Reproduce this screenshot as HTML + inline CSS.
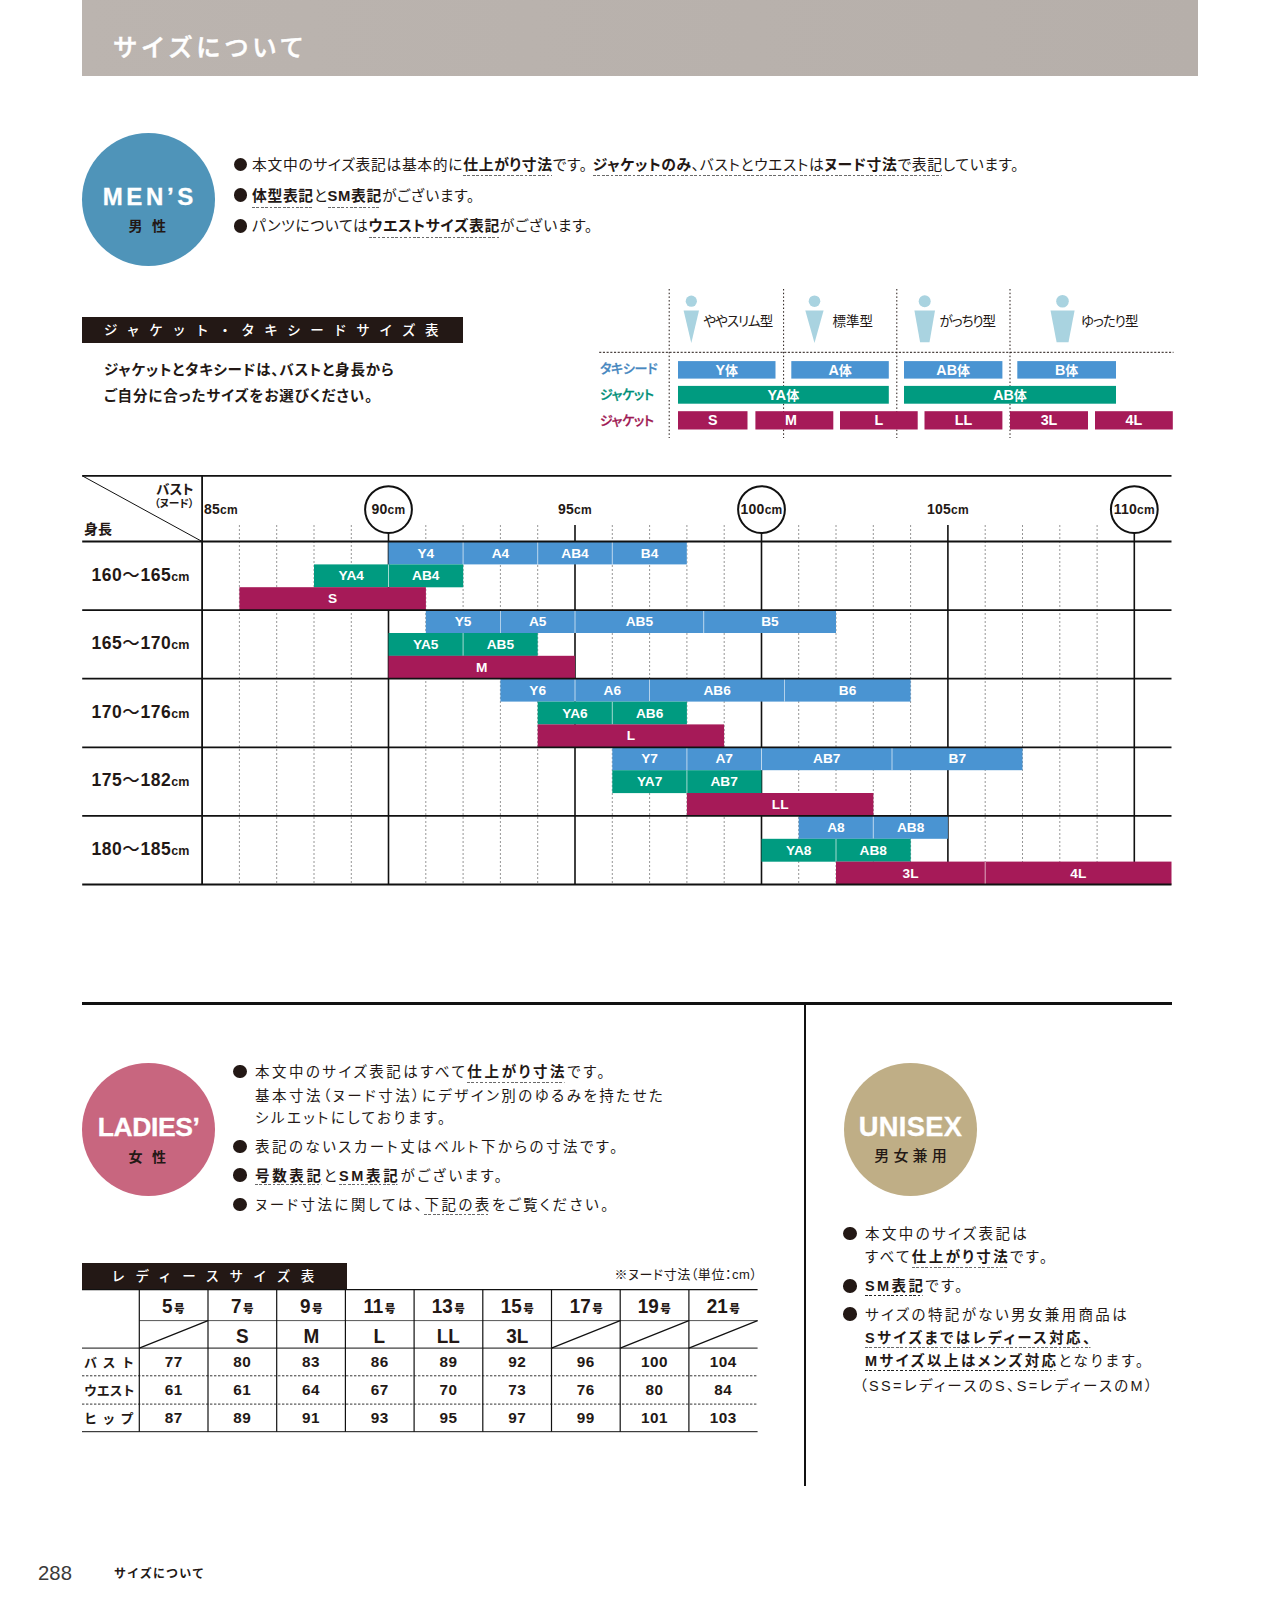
<!DOCTYPE html>
<html lang="ja"><head><meta charset="utf-8"><title>サイズについて</title>
<style>
*{margin:0;padding:0;box-sizing:border-box}
html,body{width:1280px;height:1616px;background:#fff;overflow:hidden}
body{font-family:"Liberation Sans","Noto Sans CJK JP",sans-serif;color:#231815;position:relative}
.a{position:absolute;white-space:nowrap}
.jp{font-family:"Liberation Sans","Noto Sans CJK JP",sans-serif}
.hdr{left:82px;top:0;width:1116.4px;height:76.3px;background:linear-gradient(90deg,#bbb4af,#b6afaa)}
.hdr span{position:absolute;left:31px;top:30.2px;font:500 24.4px/36px "Liberation Sans","Noto Sans CJK JP",sans-serif;color:#fff;letter-spacing:3.6px;-webkit-text-stroke:.5px #fff}
.circ{border-radius:50%;width:133px;height:133px;text-align:center;color:#fff}
.circ b{display:block;font:700 25px/30px "Liberation Sans",sans-serif;letter-spacing:2px;-webkit-text-stroke:.3px #fff}
.circ i{display:block;font:700 14px/20px "Liberation Sans","Noto Sans CJK JP",sans-serif;font-style:normal;color:#231815}
.bl{font:400 14.8px/22px "Liberation Sans","Noto Sans CJK JP",sans-serif;font-feature-settings:"palt";letter-spacing:.66px;color:#231815}
.bl b{font-weight:700}
.bl u,.bl2 u{text-decoration:none;background-image:repeating-linear-gradient(90deg,#6a6a6a 0 2.7px,transparent 2.7px 4.4px);background-size:100% 1px;background-repeat:no-repeat;background-position:0 100%}
.dot{width:13.6px;height:13.6px;border-radius:50%;background:#231815}
.lab{background:#231815;color:#fff;font:500 13.5px/28.4px "Liberation Sans","Noto Sans CJK JP",sans-serif}
.bar{color:#fff;font:700 14.3px/18px "Liberation Sans","Noto Sans CJK JP",sans-serif;text-align:center}
.cb{color:#fff;font:700 13.7px/23px "Liberation Sans","Noto Sans CJK JP",sans-serif;text-align:center;height:23px}
.rowl{font:700 17.5px/24px "Liberation Sans","Noto Sans CJK JP",sans-serif;letter-spacing:.55px}
.rowl i{font-style:normal;font-weight:500}
.rowl small{font-size:12.5px;letter-spacing:0}
.ax{font:700 14px/16px "Liberation Sans",sans-serif;text-align:center;letter-spacing:.25px}
.ax small{font-size:12px}
.t td{}

.bl2{font:400 14.5px/22px "Liberation Sans","Noto Sans CJK JP",sans-serif;font-feature-settings:"palt";letter-spacing:2.48px;color:#231815}
.bl2 b{font-weight:700;letter-spacing:var(--bls,2.68px)}
.tn{font:700 15.3px/20px "Liberation Sans",sans-serif;text-align:center;width:68.7px;letter-spacing:.5px}
.th{font:700 20.5px/24px "Liberation Sans","Noto Sans CJK JP",sans-serif;text-align:center;width:68.7px;transform:scaleX(.92)}
.th small{font:900 11.5px/12px "Liberation Sans","Noto Sans CJK JP",sans-serif;margin-left:1.5px}
.ts{font:700 21px/24px "Liberation Sans",sans-serif;text-align:center;width:68.7px;transform:scaleX(.9)}
.tl{font:700 13px/20px "Liberation Sans","Noto Sans CJK JP",sans-serif;left:84px;width:52px;text-align:justify}
</style></head>
<body>
<div class="a hdr"><span>サイズについて</span></div>
<div class="a circ" style="left:82px;top:133px;background:#4f94b9"><b style="margin-top:48.5px;font-size:24px;letter-spacing:3.6px;padding-left:2.6px">MEN’S</b><i style="margin-top:4.75px;letter-spacing:9.4px;padding-left:7px">男性</i></div>
<div class="a dot" style="left:233.5px;top:157.8px"></div>
<div class="a bl" style="left:252px;top:154.1px;">本文中のサイズ表記は基本的に<u style="padding-bottom:2.84px;background-size:calc(100% - 0.6px) 1px"><b>仕上がり寸法</b></u>です。<span style="margin-left:5px"></span><u style="padding-bottom:2.84px;background-size:calc(100% - 0.6px) 1px"><b>ジャケットのみ</b>、バストとウエストは<b>ヌード寸法</b>で表記</u>しています。</div>
<div class="a dot" style="left:233.5px;top:188.3px"></div>
<div class="a bl" style="left:252px;top:184.6px;"><u style="padding-bottom:4.14px;background-size:calc(100% - 0.6px) 1px"><b>体型表記</b></u>と<u style="padding-bottom:4.14px;background-size:calc(100% - 0.6px) 1px"><b>SM表記</b></u>がございます。</div>
<div class="a dot" style="left:233.5px;top:219.0px"></div>
<div class="a bl" style="left:252px;top:215.3px;">パンツについては<u style="padding-bottom:3.54px;background-size:calc(100% - 0.6px) 1px"><b>ウエストサイズ表記</b></u>がございます。</div>
<div class="a lab" style="left:82px;top:316.5px;width:381px;height:26px;padding-left:22px;letter-spacing:9.5px">ジャケット・タキシードサイズ表</div>
<div class="a bl" style="left:104px;top:359.3px;font-weight:700;font-size:14.5px;letter-spacing:.85px">ジャケットとタキシードは、バストと身長から</div>
<div class="a bl" style="left:104px;top:385.3px;font-weight:700;font-size:14.5px;letter-spacing:.92px">ご自分に合ったサイズをお選びください。</div>
<svg class="a" style="left:590px;top:280px" width="600" height="170" viewBox="590 280 600 170"><line x1="669.2" y1="289" x2="669.2" y2="438" stroke="#231815" stroke-width="1" stroke-dasharray="1.5 2.2"/><line x1="783.6" y1="289" x2="783.6" y2="438" stroke="#231815" stroke-width="1" stroke-dasharray="1.5 2.2"/><line x1="896.8" y1="289" x2="896.8" y2="438" stroke="#231815" stroke-width="1" stroke-dasharray="1.5 2.2"/><line x1="1010" y1="289" x2="1010" y2="438" stroke="#231815" stroke-width="1" stroke-dasharray="1.5 2.2"/><line x1="599.2" y1="352.3" x2="1173.5" y2="352.3" stroke="#231815" stroke-width="1" stroke-dasharray="2.1 1.6"/><circle cx="691.3" cy="301.2" r="5.6" fill="#a9d3e0"/><polygon points="683.6,310.6 699,310.6 691.3,343" fill="#a9d3e0"/><circle cx="814.5" cy="301.2" r="5.8" fill="#a9d3e0"/><polygon points="805.3,310.6 823.6,310.6 814.5,343" fill="#a9d3e0"/><circle cx="924.7" cy="301.2" r="6" fill="#a9d3e0"/><polygon points="914.4,310.6 935,310.6 929.5,342.3 920.1,342.3" fill="#a9d3e0"/><circle cx="1062.5" cy="301.2" r="6.3" fill="#a9d3e0"/><polygon points="1050.5,310.6 1074.6,310.6 1068.5,342.3 1056.6,342.3" fill="#a9d3e0"/><rect x="678" y="361.1" width="97.5" height="17.5" fill="#4a94d2"/><rect x="791.3" y="361.1" width="97.5" height="17.5" fill="#4a94d2"/><rect x="904" y="361.1" width="98.4" height="17.5" fill="#4a94d2"/><rect x="1017.3" y="361.1" width="98.7" height="17.5" fill="#4a94d2"/><rect x="678" y="385.9" width="210.8" height="17.8" fill="#009b80"/><rect x="904" y="385.9" width="212.0" height="17.8" fill="#009b80"/><rect x="678" y="411.2" width="69.5" height="18.3" fill="#a61a58"/><rect x="755.4" y="411.2" width="77.9" height="18.3" fill="#a61a58"/><rect x="840" y="411.2" width="77.7" height="18.3" fill="#a61a58"/><rect x="924.5" y="411.2" width="77.9" height="18.3" fill="#a61a58"/><rect x="1010" y="411.2" width="78.0" height="18.3" fill="#a61a58"/><rect x="1095" y="411.2" width="77.8" height="18.3" fill="#a61a58"/></svg>
<div class="a bar" style="left:678px;width:97.5px;top:360.7px">Y<span style="font-size:13px">体</span></div>
<div class="a bar" style="left:791.3px;width:97.5px;top:360.7px">A<span style="font-size:13px">体</span></div>
<div class="a bar" style="left:904px;width:98.4px;top:360.7px">AB<span style="font-size:13px">体</span></div>
<div class="a bar" style="left:1017.3px;width:98.7px;top:360.7px">B<span style="font-size:13px">体</span></div>
<div class="a bar" style="left:678px;width:210.8px;top:385.8px">YA<span style="font-size:13px">体</span></div>
<div class="a bar" style="left:904px;width:212.0px;top:385.8px">AB<span style="font-size:13px">体</span></div>
<div class="a bar" style="left:678px;width:69.5px;top:411.3px">S</div>
<div class="a bar" style="left:751.9px;width:77.9px;top:411.3px">M</div>
<div class="a bar" style="left:840px;width:77.7px;top:411.3px">L</div>
<div class="a bar" style="left:924.5px;width:77.9px;top:411.3px">LL</div>
<div class="a bar" style="left:1010px;width:78.0px;top:411.3px">3L</div>
<div class="a bar" style="left:1095px;width:77.8px;top:411.3px">4L</div>
<div class="a jp" style="left:600px;top:358.96px;font:500 13px/20px 'Liberation Sans','Noto Sans CJK JP',sans-serif;font-feature-settings:'palt';letter-spacing:-.3px;-webkit-text-stroke:.3px;color:#4788bf">タキシード</div>
<div class="a jp" style="left:600px;top:384.56px;font:500 13px/20px 'Liberation Sans','Noto Sans CJK JP',sans-serif;font-feature-settings:'palt';letter-spacing:-.3px;-webkit-text-stroke:.3px;color:#008f78">ジャケット</div>
<div class="a jp" style="left:600px;top:410.56px;font:500 13px/20px 'Liberation Sans','Noto Sans CJK JP',sans-serif;font-feature-settings:'palt';letter-spacing:-.3px;-webkit-text-stroke:.3px;color:#9e1853">ジャケット</div>
<div class="a jp" style="left:703.5px;top:311.7px;font:400 13.5px/20px 'Liberation Sans','Noto Sans CJK JP',sans-serif;font-feature-settings:'palt';letter-spacing:-1px">ややスリム型</div>
<div class="a jp" style="left:832.5px;top:311.7px;font:400 13.5px/20px 'Liberation Sans','Noto Sans CJK JP',sans-serif;font-feature-settings:'palt';letter-spacing:0px">標準型</div>
<div class="a jp" style="left:939.5px;top:311.7px;font:400 13.5px/20px 'Liberation Sans','Noto Sans CJK JP',sans-serif;font-feature-settings:'palt';letter-spacing:-1px">がっちり型</div>
<div class="a jp" style="left:1081px;top:311.7px;font:400 13.5px/20px 'Liberation Sans','Noto Sans CJK JP',sans-serif;font-feature-settings:'palt';letter-spacing:-1px">ゆったり型</div>
<svg class="a" style="left:70px;top:465px" width="1120" height="430" viewBox="70 465 1120 430"><line x1="239.4" y1="525" x2="239.4" y2="884.5" stroke="#969696" stroke-width="1" stroke-dasharray="2 2"/><line x1="276.7" y1="525" x2="276.7" y2="884.5" stroke="#969696" stroke-width="1" stroke-dasharray="2 2"/><line x1="314.0" y1="525" x2="314.0" y2="884.5" stroke="#969696" stroke-width="1" stroke-dasharray="2 2"/><line x1="351.3" y1="525" x2="351.3" y2="884.5" stroke="#969696" stroke-width="1" stroke-dasharray="2 2"/><line x1="425.8" y1="525" x2="425.8" y2="884.5" stroke="#969696" stroke-width="1" stroke-dasharray="2 2"/><line x1="463.1" y1="525" x2="463.1" y2="884.5" stroke="#969696" stroke-width="1" stroke-dasharray="2 2"/><line x1="500.4" y1="525" x2="500.4" y2="884.5" stroke="#969696" stroke-width="1" stroke-dasharray="2 2"/><line x1="537.7" y1="525" x2="537.7" y2="884.5" stroke="#969696" stroke-width="1" stroke-dasharray="2 2"/><line x1="612.3" y1="525" x2="612.3" y2="884.5" stroke="#969696" stroke-width="1" stroke-dasharray="2 2"/><line x1="649.6" y1="525" x2="649.6" y2="884.5" stroke="#969696" stroke-width="1" stroke-dasharray="2 2"/><line x1="686.9" y1="525" x2="686.9" y2="884.5" stroke="#969696" stroke-width="1" stroke-dasharray="2 2"/><line x1="724.2" y1="525" x2="724.2" y2="884.5" stroke="#969696" stroke-width="1" stroke-dasharray="2 2"/><line x1="798.7" y1="525" x2="798.7" y2="884.5" stroke="#969696" stroke-width="1" stroke-dasharray="2 2"/><line x1="836.0" y1="525" x2="836.0" y2="884.5" stroke="#969696" stroke-width="1" stroke-dasharray="2 2"/><line x1="873.3" y1="525" x2="873.3" y2="884.5" stroke="#969696" stroke-width="1" stroke-dasharray="2 2"/><line x1="910.6" y1="525" x2="910.6" y2="884.5" stroke="#969696" stroke-width="1" stroke-dasharray="2 2"/><line x1="985.2" y1="525" x2="985.2" y2="884.5" stroke="#969696" stroke-width="1" stroke-dasharray="2 2"/><line x1="1022.5" y1="525" x2="1022.5" y2="884.5" stroke="#969696" stroke-width="1" stroke-dasharray="2 2"/><line x1="1059.8" y1="525" x2="1059.8" y2="884.5" stroke="#969696" stroke-width="1" stroke-dasharray="2 2"/><line x1="1097.1" y1="525" x2="1097.1" y2="884.5" stroke="#969696" stroke-width="1" stroke-dasharray="2 2"/><line x1="575.0" y1="525" x2="575.0" y2="884.5" stroke="#111" stroke-width="1.6"/><line x1="947.9" y1="525" x2="947.9" y2="884.5" stroke="#111" stroke-width="1.6"/><line x1="388.5" y1="533" x2="388.5" y2="884.5" stroke="#111" stroke-width="1.6"/><circle cx="388.5" cy="509.6" r="23.4" fill="#fff" stroke="#111" stroke-width="2"/><line x1="761.5" y1="533" x2="761.5" y2="884.5" stroke="#111" stroke-width="1.6"/><circle cx="761.5" cy="509.6" r="23.4" fill="#fff" stroke="#111" stroke-width="2"/><line x1="1134.3" y1="533" x2="1134.3" y2="884.5" stroke="#111" stroke-width="1.6"/><circle cx="1134.3" cy="509.6" r="23.4" fill="#fff" stroke="#111" stroke-width="2"/><rect x="388.5" y="541.5" width="298.3" height="22.9" fill="#4a94d2"/><line x1="463.1" y1="541.5" x2="463.1" y2="564.4" stroke="#fff" stroke-width="0.8" opacity=".8"/><line x1="537.7" y1="541.5" x2="537.7" y2="564.4" stroke="#fff" stroke-width="0.8" opacity=".8"/><line x1="612.3" y1="541.5" x2="612.3" y2="564.4" stroke="#fff" stroke-width="0.8" opacity=".8"/><rect x="314.0" y="564.4" width="149.2" height="22.9" fill="#009b80"/><line x1="388.5" y1="564.4" x2="388.5" y2="587.2" stroke="#fff" stroke-width="0.8" opacity=".8"/><rect x="239.4" y="587.2" width="186.5" height="22.9" fill="#a61a58"/><rect x="425.8" y="610.1" width="410.2" height="22.9" fill="#4a94d2"/><line x1="500.4" y1="610.1" x2="500.4" y2="633.0" stroke="#fff" stroke-width="0.8" opacity=".8"/><line x1="575.0" y1="610.1" x2="575.0" y2="633.0" stroke="#fff" stroke-width="0.8" opacity=".8"/><line x1="703.7" y1="610.1" x2="703.7" y2="633.0" stroke="#fff" stroke-width="0.8" opacity=".8"/><rect x="388.5" y="633.0" width="149.2" height="22.9" fill="#009b80"/><line x1="463.1" y1="633.0" x2="463.1" y2="655.8" stroke="#fff" stroke-width="0.8" opacity=".8"/><rect x="388.5" y="655.8" width="186.5" height="22.9" fill="#a61a58"/><rect x="500.4" y="678.7" width="410.2" height="22.9" fill="#4a94d2"/><line x1="575.0" y1="678.7" x2="575.0" y2="701.6" stroke="#fff" stroke-width="0.8" opacity=".8"/><line x1="649.6" y1="678.7" x2="649.6" y2="701.6" stroke="#fff" stroke-width="0.8" opacity=".8"/><line x1="784.6" y1="678.7" x2="784.6" y2="701.6" stroke="#fff" stroke-width="0.8" opacity=".8"/><rect x="537.7" y="701.6" width="149.2" height="22.9" fill="#009b80"/><line x1="612.3" y1="701.6" x2="612.3" y2="724.4" stroke="#fff" stroke-width="0.8" opacity=".8"/><rect x="537.7" y="724.4" width="186.4" height="22.9" fill="#a61a58"/><rect x="612.3" y="747.3" width="410.2" height="22.9" fill="#4a94d2"/><line x1="686.9" y1="747.3" x2="686.9" y2="770.2" stroke="#fff" stroke-width="0.8" opacity=".8"/><line x1="761.5" y1="747.3" x2="761.5" y2="770.2" stroke="#fff" stroke-width="0.8" opacity=".8"/><line x1="892.0" y1="747.3" x2="892.0" y2="770.2" stroke="#fff" stroke-width="0.8" opacity=".8"/><rect x="612.3" y="770.2" width="149.2" height="22.9" fill="#009b80"/><line x1="686.9" y1="770.2" x2="686.9" y2="793.0" stroke="#fff" stroke-width="0.8" opacity=".8"/><rect x="686.9" y="793.0" width="186.5" height="22.9" fill="#a61a58"/><rect x="798.7" y="815.9" width="149.2" height="22.9" fill="#4a94d2"/><line x1="873.3" y1="815.9" x2="873.3" y2="838.8" stroke="#fff" stroke-width="0.8" opacity=".8"/><rect x="761.5" y="838.8" width="149.2" height="22.9" fill="#009b80"/><line x1="836.0" y1="838.8" x2="836.0" y2="861.6" stroke="#fff" stroke-width="0.8" opacity=".8"/><rect x="836.0" y="861.6" width="335.5" height="22.9" fill="#a61a58"/><line x1="985.2" y1="861.6" x2="985.2" y2="884.5" stroke="#fff" stroke-width="0.8" opacity=".8"/><line x1="82.2" y1="475.8" x2="1171.5" y2="475.8" stroke="#111" stroke-width="1.8"/><line x1="82.2" y1="541.5" x2="1171.5" y2="541.5" stroke="#111" stroke-width="1.8"/><line x1="82.2" y1="610.1" x2="1171.5" y2="610.1" stroke="#111" stroke-width="1.8"/><line x1="82.2" y1="678.7" x2="1171.5" y2="678.7" stroke="#111" stroke-width="1.8"/><line x1="82.2" y1="747.3" x2="1171.5" y2="747.3" stroke="#111" stroke-width="1.8"/><line x1="82.2" y1="815.9" x2="1171.5" y2="815.9" stroke="#111" stroke-width="1.8"/><line x1="82.2" y1="884.5" x2="1171.5" y2="884.5" stroke="#111" stroke-width="1.8"/><line x1="202.1" y1="475.8" x2="202.1" y2="884.5" stroke="#111" stroke-width="1.8"/><line x1="82.2" y1="475.8" x2="202.1" y2="541.5" stroke="#111" stroke-width="1"/></svg>
<div class="a cb" style="left:388.5px;width:74.6px;top:541.5px">Y4</div>
<div class="a cb" style="left:463.1px;width:74.6px;top:541.5px">A4</div>
<div class="a cb" style="left:537.7px;width:74.6px;top:541.5px">AB4</div>
<div class="a cb" style="left:612.3px;width:74.6px;top:541.5px">B4</div>
<div class="a cb" style="left:314.0px;width:74.6px;top:564.4px">YA4</div>
<div class="a cb" style="left:388.5px;width:74.6px;top:564.4px">AB4</div>
<div class="a cb" style="left:239.4px;width:186.5px;top:587.2px">S</div>
<div class="a cb" style="left:425.8px;width:74.6px;top:610.1px">Y5</div>
<div class="a cb" style="left:500.4px;width:74.6px;top:610.1px">A5</div>
<div class="a cb" style="left:575.0px;width:128.7px;top:610.1px">AB5</div>
<div class="a cb" style="left:703.7px;width:132.4px;top:610.1px">B5</div>
<div class="a cb" style="left:388.5px;width:74.6px;top:633.0px">YA5</div>
<div class="a cb" style="left:463.1px;width:74.6px;top:633.0px">AB5</div>
<div class="a cb" style="left:388.5px;width:186.5px;top:655.8px">M</div>
<div class="a cb" style="left:500.4px;width:74.6px;top:678.7px">Y6</div>
<div class="a cb" style="left:575.0px;width:74.6px;top:678.7px">A6</div>
<div class="a cb" style="left:649.6px;width:135.0px;top:678.7px">AB6</div>
<div class="a cb" style="left:784.6px;width:126.0px;top:678.7px">B6</div>
<div class="a cb" style="left:537.7px;width:74.6px;top:701.6px">YA6</div>
<div class="a cb" style="left:612.3px;width:74.6px;top:701.6px">AB6</div>
<div class="a cb" style="left:537.7px;width:186.4px;top:724.4px">L</div>
<div class="a cb" style="left:612.3px;width:74.6px;top:747.3px">Y7</div>
<div class="a cb" style="left:686.9px;width:74.6px;top:747.3px">A7</div>
<div class="a cb" style="left:761.5px;width:130.5px;top:747.3px">AB7</div>
<div class="a cb" style="left:892.0px;width:130.5px;top:747.3px">B7</div>
<div class="a cb" style="left:612.3px;width:74.6px;top:770.2px">YA7</div>
<div class="a cb" style="left:686.9px;width:74.6px;top:770.2px">AB7</div>
<div class="a cb" style="left:686.9px;width:186.5px;top:793.0px">LL</div>
<div class="a cb" style="left:798.7px;width:74.6px;top:815.9px">A8</div>
<div class="a cb" style="left:873.3px;width:74.6px;top:815.9px">AB8</div>
<div class="a cb" style="left:761.5px;width:74.6px;top:838.8px">YA8</div>
<div class="a cb" style="left:836.0px;width:74.6px;top:838.8px">AB8</div>
<div class="a cb" style="left:836.0px;width:149.2px;top:861.6px">3L</div>
<div class="a cb" style="left:985.2px;width:186.3px;top:861.6px">4L</div>
<div class="a ax" style="left:204px;top:501px;text-align:left">85<small>cm</small></div>
<div class="a ax" style="left:358.5px;width:60px;top:501px">90<small>cm</small></div>
<div class="a ax" style="left:545.0px;width:60px;top:501px">95<small>cm</small></div>
<div class="a ax" style="left:731.5px;width:60px;top:501px">100<small>cm</small></div>
<div class="a ax" style="left:917.9px;width:60px;top:501px">105<small>cm</small></div>
<div class="a ax" style="left:1104.3px;width:60px;top:501px">110<small>cm</small></div>
<div class="a jp" style="left:120px;width:73.5px;text-align:right;top:481.7px;font:700 13.5px/16px 'Liberation Sans','Noto Sans CJK JP',sans-serif;font-feature-settings:'palt'">バスト</div>
<div class="a jp" style="left:120px;width:74px;text-align:right;top:496.45px;font:700 10.7px/14px 'Liberation Sans','Noto Sans CJK JP',sans-serif;font-feature-settings:'palt'">（ヌード）</div>
<div class="a jp" style="left:84px;top:520.25px;font:700 14px/18px 'Liberation Sans','Noto Sans CJK JP',sans-serif">身長</div>
<div class="a rowl" style="left:91.5px;top:562.6px">160<i>～</i>165<small>cm</small></div>
<div class="a rowl" style="left:91.5px;top:631.2px">165<i>～</i>170<small>cm</small></div>
<div class="a rowl" style="left:91.5px;top:699.8px">170<i>～</i>176<small>cm</small></div>
<div class="a rowl" style="left:91.5px;top:768.4px">175<i>～</i>182<small>cm</small></div>
<div class="a rowl" style="left:91.5px;top:837.0px">180<i>～</i>185<small>cm</small></div>
<div class="a" style="left:82px;top:1002.2px;width:1090px;height:2.4px;background:#111"></div>
<div class="a" style="left:804px;top:1003px;width:2.2px;height:483px;background:#111"></div>
<div class="a circ" style="left:82.2px;top:1062.7px;background:#c8667f"><b style="margin-top:49px;font-size:26.5px;letter-spacing:-.4px">LADIES’</b><i style="margin-top:5.25px;letter-spacing:9.4px;padding-left:6.5px">女性</i></div>
<div class="a dot" style="left:233.3px;top:1064.7px"></div>
<div class="a bl2" style="left:255px;top:1061.0px;">本文中のサイズ表記はすべて<u style="padding-bottom:2.52px;background-size:calc(100% - 2.5px) 1px"><b>仕上がり寸法</b></u>です。</div>
<div class="a bl2" style="left:255px;top:1084.5px;">基本寸法（ヌード寸法）にデザイン別のゆるみを持たせた</div>
<div class="a bl2" style="left:255px;top:1106.9px;">シルエットにしております。</div>
<div class="a dot" style="left:233.3px;top:1139.7px"></div>
<div class="a bl2" style="left:255px;top:1136.0px;">表記のないスカート丈はベルト下からの寸法です。</div>
<div class="a dot" style="left:233.3px;top:1168.2px"></div>
<div class="a bl2" style="left:255px;top:1164.5px;"><u style="padding-bottom:1.62px;background-size:calc(100% - 2.5px) 1px"><b>号数表記</b></u>と<u style="padding-bottom:1.62px;background-size:calc(100% - 2.5px) 1px"><b>SM表記</b></u>がございます。</div>
<div class="a dot" style="left:233.3px;top:1197.5px"></div>
<div class="a bl2" style="left:255px;top:1193.8px;">ヌード寸法に関しては、<u style="padding-bottom:2.12px;background-size:calc(100% - 2.5px) 1px">下記の表</u>をご覧ください。</div>
<div class="a circ" style="left:844px;top:1063px;background:#bfae86"><b style="margin-top:49px;font-size:27.3px;letter-spacing:.3px">UNISEX</b><i style="margin-top:3.85px;font-size:15px;font-weight:500;letter-spacing:4.2px;padding-left:4.2px">男女兼用</i></div>
<div class="a dot" style="left:843px;top:1226.6px"></div>
<div class="a bl2" style="left:865px;top:1222.9px;letter-spacing:2.38px;--bls:2.4px">本文中のサイズ表記は</div>
<div class="a bl2" style="left:865px;top:1245.8px;letter-spacing:2.38px;--bls:2.4px">すべて<u style="padding-bottom:3.12px;background-size:calc(100% - 2.5px) 1px"><b>仕上がり寸法</b></u>です。</div>
<div class="a dot" style="left:843px;top:1279.0px"></div>
<div class="a bl2" style="left:865px;top:1275.2px;letter-spacing:2.38px;--bls:2.4px"><u style="padding-bottom:2.12px;background-image:repeating-linear-gradient(90deg,#222 0 2.6px,transparent 2.6px 4.4px);background-size:calc(100% - 2.4px) 1.3px"><b>SM表記</b></u>です。</div>
<div class="a dot" style="left:843px;top:1307.3px"></div>
<div class="a bl2" style="left:865px;top:1303.5px;letter-spacing:2.38px;--bls:2.4px">サイズの特記がない男女兼用商品は</div>
<div class="a bl2" style="left:865px;top:1326.7px;letter-spacing:2.38px;--bls:2.4px"><u style="padding-bottom:2.42px;background-size:calc(100% - 2.5px) 1px"><b>Sサイズまではレディース対応、</b></u></div>
<div class="a bl2" style="left:865px;top:1349.8px;letter-spacing:2.38px;--bls:2.4px"><u style="padding-bottom:2.62px;background-image:repeating-linear-gradient(90deg,#222 0 2.6px,transparent 2.6px 4.4px);background-size:calc(100% - 2.4px) 1.3px"><b>Mサイズ以上はメンズ対応</b></u><span style="letter-spacing:2.75px">となります。</span></div>
<div class="a bl2" style="left:865px;top:1375.0px;letter-spacing:2.38px;--bls:2.4px"><span style="margin-left:-5.5px;letter-spacing:2.34px">（SS=レディースのS、S=レディースのM）</span></div>
<div class="a lab" style="left:82px;top:1263.2px;width:265px;height:26.2px;padding-left:29.5px;letter-spacing:10.4px">レディースサイズ表</div>
<div class="a jp" style="left:560px;width:197.5px;text-align:right;top:1264.66px;font:400 13px/20px 'Liberation Sans','Noto Sans CJK JP',sans-serif;font-feature-settings:'palt';letter-spacing:.55px">※ヌード寸法（単位：cm）</div>
<svg class="a" style="left:70px;top:1280px" width="700" height="160" viewBox="70 1280 700 160"><line x1="82" y1="1289.6" x2="757.6000000000001" y2="1289.6" stroke="#111" stroke-width="1.2"/><line x1="139.3" y1="1320.6" x2="757.6000000000001" y2="1320.6" stroke="#555" stroke-width="1"/><line x1="82" y1="1348.1" x2="757.6000000000001" y2="1348.1" stroke="#111" stroke-width="1"/><line x1="82" y1="1375.8" x2="757.6000000000001" y2="1375.8" stroke="#333" stroke-width="1" stroke-dasharray="2.4 1.6"/><line x1="82" y1="1404.1" x2="757.6000000000001" y2="1404.1" stroke="#333" stroke-width="1" stroke-dasharray="2.4 1.6"/><line x1="82" y1="1431.7" x2="757.6000000000001" y2="1431.7" stroke="#111" stroke-width="1"/><line x1="139.3" y1="1289.6" x2="139.3" y2="1431.7" stroke="#111" stroke-width="1.2"/><line x1="208.0" y1="1289.6" x2="208.0" y2="1431.7" stroke="#111" stroke-width="1.2"/><line x1="276.7" y1="1289.6" x2="276.7" y2="1431.7" stroke="#111" stroke-width="1.2"/><line x1="345.4" y1="1289.6" x2="345.4" y2="1431.7" stroke="#111" stroke-width="1.2"/><line x1="414.1" y1="1289.6" x2="414.1" y2="1431.7" stroke="#111" stroke-width="1.2"/><line x1="482.8" y1="1289.6" x2="482.8" y2="1431.7" stroke="#111" stroke-width="1.2"/><line x1="551.5" y1="1289.6" x2="551.5" y2="1431.7" stroke="#111" stroke-width="1.2"/><line x1="620.2" y1="1289.6" x2="620.2" y2="1431.7" stroke="#111" stroke-width="1.2"/><line x1="688.9" y1="1289.6" x2="688.9" y2="1431.7" stroke="#111" stroke-width="1.2"/><line x1="139.3" y1="1348.1" x2="208.0" y2="1320.6" stroke="#111" stroke-width="1.2"/><line x1="551.5" y1="1348.1" x2="620.2" y2="1320.6" stroke="#111" stroke-width="1.2"/><line x1="620.2" y1="1348.1" x2="688.9" y2="1320.6" stroke="#111" stroke-width="1.2"/><line x1="688.9" y1="1348.1" x2="757.6" y2="1320.6" stroke="#111" stroke-width="1.2"/></svg>
<div class="a th" style="left:139.3px;top:1294.2px">5<small>号</small></div>
<div class="a tn" style="left:139.3px;top:1351.9px">77</div>
<div class="a tn" style="left:139.3px;top:1379.9px">61</div>
<div class="a tn" style="left:139.3px;top:1407.9px">87</div>
<div class="a th" style="left:208.0px;top:1294.2px">7<small>号</small></div>
<div class="a ts" style="left:208.0px;top:1323.8px">S</div>
<div class="a tn" style="left:208.0px;top:1351.9px">80</div>
<div class="a tn" style="left:208.0px;top:1379.9px">61</div>
<div class="a tn" style="left:208.0px;top:1407.9px">89</div>
<div class="a th" style="left:276.7px;top:1294.2px">9<small>号</small></div>
<div class="a ts" style="left:276.7px;top:1323.8px">M</div>
<div class="a tn" style="left:276.7px;top:1351.9px">83</div>
<div class="a tn" style="left:276.7px;top:1379.9px">64</div>
<div class="a tn" style="left:276.7px;top:1407.9px">91</div>
<div class="a th" style="left:345.4px;top:1294.2px">11<small>号</small></div>
<div class="a ts" style="left:345.4px;top:1323.8px">L</div>
<div class="a tn" style="left:345.4px;top:1351.9px">86</div>
<div class="a tn" style="left:345.4px;top:1379.9px">67</div>
<div class="a tn" style="left:345.4px;top:1407.9px">93</div>
<div class="a th" style="left:414.1px;top:1294.2px">13<small>号</small></div>
<div class="a ts" style="left:414.1px;top:1323.8px">LL</div>
<div class="a tn" style="left:414.1px;top:1351.9px">89</div>
<div class="a tn" style="left:414.1px;top:1379.9px">70</div>
<div class="a tn" style="left:414.1px;top:1407.9px">95</div>
<div class="a th" style="left:482.8px;top:1294.2px">15<small>号</small></div>
<div class="a ts" style="left:482.8px;top:1323.8px">3L</div>
<div class="a tn" style="left:482.8px;top:1351.9px">92</div>
<div class="a tn" style="left:482.8px;top:1379.9px">73</div>
<div class="a tn" style="left:482.8px;top:1407.9px">97</div>
<div class="a th" style="left:551.5px;top:1294.2px">17<small>号</small></div>
<div class="a tn" style="left:551.5px;top:1351.9px">96</div>
<div class="a tn" style="left:551.5px;top:1379.9px">76</div>
<div class="a tn" style="left:551.5px;top:1407.9px">99</div>
<div class="a th" style="left:620.2px;top:1294.2px">19<small>号</small></div>
<div class="a tn" style="left:620.2px;top:1351.9px">100</div>
<div class="a tn" style="left:620.2px;top:1379.9px">80</div>
<div class="a tn" style="left:620.2px;top:1407.9px">101</div>
<div class="a th" style="left:688.9px;top:1294.2px">21<small>号</small></div>
<div class="a tn" style="left:688.9px;top:1351.9px">104</div>
<div class="a tn" style="left:688.9px;top:1379.9px">84</div>
<div class="a tn" style="left:688.9px;top:1407.9px">103</div>
<div class="a jp" style="left:84px;top:1353.1px;font:700 13px/20px 'Liberation Sans','Noto Sans CJK JP',sans-serif;letter-spacing:5.6px">バスト</div>
<div class="a jp" style="left:84px;top:1381.1px;font:700 13px/20px 'Liberation Sans','Noto Sans CJK JP',sans-serif;letter-spacing:-0.3px">ウエスト</div>
<div class="a jp" style="left:84px;top:1409.1px;font:700 13px/20px 'Liberation Sans','Noto Sans CJK JP',sans-serif;letter-spacing:5.2px">ヒップ</div>
<div class="a" style="left:38px;top:1560.6px;font:400 20.3px/24px 'Liberation Sans',sans-serif;color:#3a3a3a;letter-spacing:.05px">288</div>
<div class="a jp" style="left:114px;top:1564.07px;font:700 12px/20px 'Liberation Sans','Noto Sans CJK JP',sans-serif;letter-spacing:1.1px">サイズについて</div>
</body></html>
